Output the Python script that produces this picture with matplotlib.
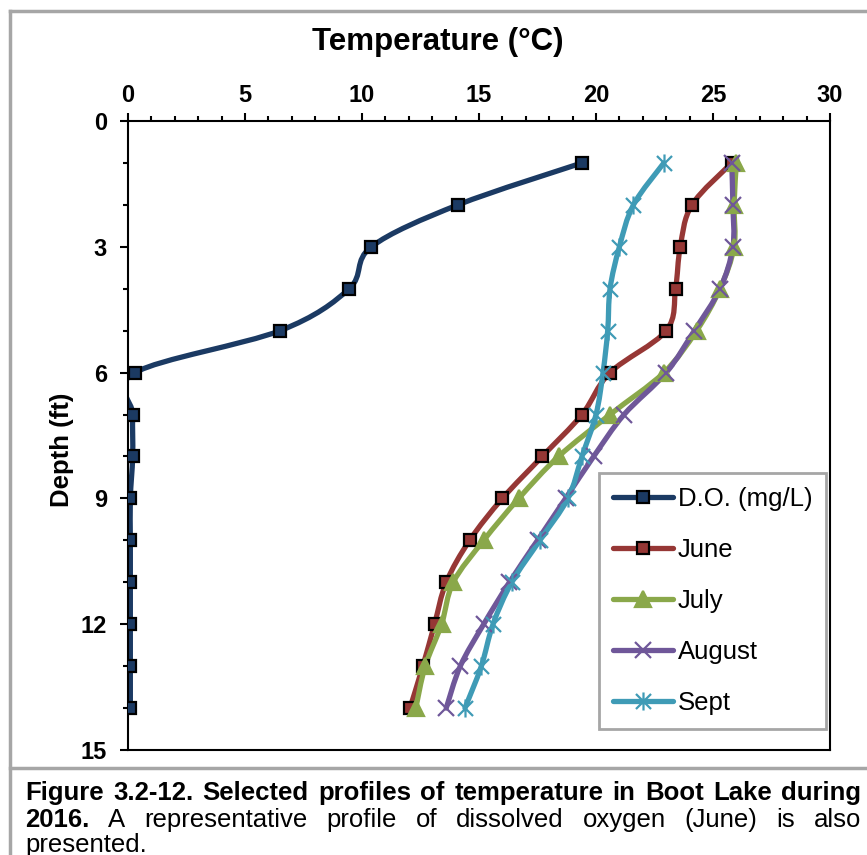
import numpy as np
import matplotlib.pyplot as plt
from matplotlib.path import Path
from matplotlib.patches import PathPatch
from matplotlib.lines import Line2D
from matplotlib.ticker import MultipleLocator
from matplotlib import font_manager

# ==== Data ====
depth = [1, 2, 3, 4, 5, 6, 7, 8, 9, 10, 11, 12, 13, 14]
do_june = [19.4, 14.1, 10.4, 9.45, 6.5, 0.3, 0.2, 0.2, 0.1, 0.1, 0.1, 0.1, 0.1, 0.1]
t_june = [25.8, 24.1, 23.6, 23.4, 23.0, 20.6, 19.4, 17.7, 16.0, 14.6, 13.6, 13.1, 12.6, 12.05]
t_july = [26.0, 25.9, 25.9, 25.3, 24.3, 22.9, 20.6, 18.4, 16.7, 15.2, 13.9, 13.4, 12.7, 12.3]
t_aug = [25.8, 25.85, 25.85, 25.3, 24.2, 23.0, 21.2, 19.9, 18.7, 17.5, 16.3, 15.2, 14.2, 13.6]
t_sept = [22.9, 21.6, 21.0, 20.6, 20.5, 20.3, 20.0, 19.4, 18.8, 17.6, 16.4, 15.6, 15.1, 14.4]

names = ["D.O. (mg/L)", "June", "July", "August", "Sept"]
series = [do_june, t_june, t_july, t_aug, t_sept]

# ==== Styles ====
star = Path([(-1, -1), (1, 1), (-1, 1), (1, -1), (0, -1.2), (0, 1.2)],
            [Path.MOVETO, Path.LINETO, Path.MOVETO, Path.LINETO, Path.MOVETO, Path.LINETO])
colors = ["#1b3a63", "#963735", "#8aa84a", "#6f5799", "#3f9bb6"]
markers = ["s", "s", "^", "x", star]
msizes = [9, 9, 11, 12, 13]

FONT = "Liberation Sans"
installed = {f.name for f in font_manager.fontManager.ttflist}
NARROW = "Liberation Sans Narrow" if "Liberation Sans Narrow" in installed else FONT
plt.rcParams['font.family'] = [FONT, 'DejaVu Sans']


def smooth_path(xs, ys):
    """Courbe lissée façon Excel (Bezier cubique, type Catmull-Rom)."""
    p = np.column_stack([xs, ys]).astype(float)
    n = len(p)
    verts = [p[0]]
    codes = [Path.MOVETO]
    for i in range(n - 1):
        p0 = p[max(i - 1, 0)]
        p1 = p[i]
        p2 = p[i + 1]
        p3 = p[min(i + 2, n - 1)]
        c1 = p1 + (p2 - p0) / 6
        c2 = p2 - (p3 - p1) / 6
        verts += [c1, c2, p2]
        codes += [Path.CURVE4] * 3
    return Path(verts, codes)


fig = plt.figure(figsize=(8.67, 8.55), dpi=100)
ax = fig.add_axes([128 / 867, 1 - 750 / 855, 702 / 867, 629 / 855])

handles = []
for name, vals, c, mk, ms in zip(names, series, colors, markers, msizes):
    ax.add_patch(PathPatch(smooth_path(vals, depth), facecolor='none', edgecolor=c,
                           lw=3.8, capstyle='round', joinstyle='round', zorder=2))
    ax.plot(vals, depth, linestyle='none', marker=mk, ms=ms,
            mfc=c, mec='black' if mk == "s" else c, mew=1.6, zorder=3)
    handles.append(Line2D([], [], color=c, lw=3.8, marker=mk, ms=ms, mfc=c,
                          mec='black' if mk == "s" else c, mew=1.6,
                          solid_capstyle='round'))

ax.set_xlim(0, 30)
ax.set_ylim(15, 0)
ax.xaxis.set_major_locator(MultipleLocator(5))
ax.xaxis.set_minor_locator(MultipleLocator(1))
ax.yaxis.set_major_locator(MultipleLocator(3))
ax.yaxis.set_minor_locator(MultipleLocator(1))
ax.xaxis.tick_top()
ax.xaxis.set_label_position('top')
ax.tick_params(axis='both', which='major', direction='out', length=6, width=1.5,
               labelsize=17)
ax.tick_params(axis='x', which='major', pad=4)
ax.tick_params(axis='y', which='major', pad=9)
ax.tick_params(axis='both', which='minor', direction='out', length=3.6, width=1.5)
ax.tick_params(axis='y', which='both', right=False)
ax.tick_params(axis='x', which='both', bottom=False)
for lab in ax.get_xticklabels() + ax.get_yticklabels():
    lab.set_fontweight('bold')
for s in ax.spines.values():
    s.set_linewidth(1.5)

ax.set_xlabel("Temperature (°C)", fontsize=22.5, fontweight='bold')
ax.xaxis.set_label_coords((438 - 128) / 702, (750 - 42) / 629, transform=ax.transAxes)
ax.xaxis.label.set_va('center')
ax.set_ylabel("Depth (ft)", fontsize=18.5, fontweight='bold')
ax.yaxis.set_label_coords((62 - 128) / 702, (750 - 450) / 629)
ax.yaxis.label.set_va('center')

leg = ax.legend(handles=handles, labels=names, loc='lower right',
                bbox_to_anchor=(0.995, 0.033), fontsize=18.5, handlelength=2.3,
                handletextpad=0.2, labelspacing=1.05, borderpad=0.55,
                borderaxespad=0, fancybox=False, framealpha=1, edgecolor='#a6a6a6')
leg.get_frame().set_linewidth(2)

# ==== Cadre et légende de figure ====
gray = '#a6a6a6'
fig.add_artist(Line2D([10 / 867, 10 / 867], [0, 1 - 11 / 855], color=gray, lw=2.5))
fig.add_artist(Line2D([10 / 867, 1], [1 - 11 / 855, 1 - 11 / 855], color=gray, lw=2.5))
fig.add_artist(Line2D([10 / 867, 1], [1 - 768 / 855, 1 - 768 / 855], color=gray, lw=2.5))

cap_size = 18.5
fig.canvas.draw()
renderer = fig.canvas.get_renderer()
x_left, x_right = 25 / 867, 861 / 867


def justify(words, y, weights):
    """Place les mots pour remplir la ligne (texte justifié)."""
    texts = [fig.text(0, y, w, fontsize=cap_size, fontweight=wt, family=[NARROW, 'DejaVu Sans'],
                      va='baseline') for w, wt in zip(words, weights)]
    widths = [t.get_window_extent(renderer).width / fig.bbox.width for t in texts]
    gap = max((x_right - x_left - sum(widths)) / (len(words) - 1), 0.004)
    x = x_left
    for t, w in zip(texts, widths):
        t.set_x(x)
        x += w + gap


line1 = "Figure 3.2-12. Selected profiles of temperature in Boot Lake during".split()
justify(line1, 1 - 800 / 855, ['bold'] * len(line1))
line2 = "2016. A representative profile of dissolved oxygen (June) is also".split()
justify(line2, 1 - 827 / 855, ['bold'] + ['normal'] * (len(line2) - 1))
fig.text(x_left, 1 - 852 / 855, "presented.", fontsize=cap_size, family=[NARROW, 'DejaVu Sans'],
         va='baseline')

fig.savefig("out.png", dpi=100)
